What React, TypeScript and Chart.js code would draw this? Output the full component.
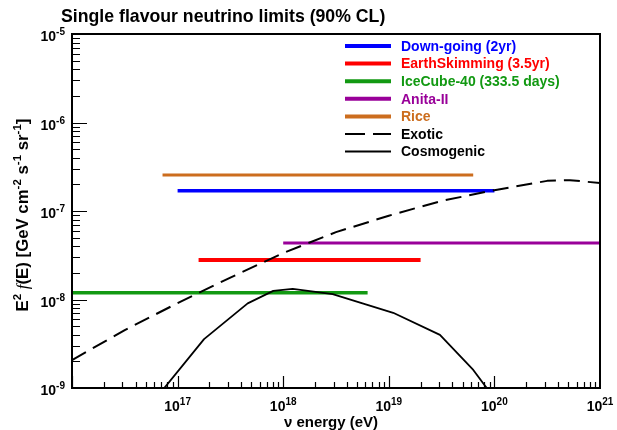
import React, { useEffect, useRef } from 'react';
import { Chart, registerables } from 'chart.js';

Chart.register(...registerables);

// ---------- data ----------
const EXOTIC_E = [1e16, 3.16e16, 1e17, 3.16e17, 1e18, 3.16e18, 1e19, 3.16e19, 1e20, 3.16e20, 5.2e20, 1e21];
const EXOTIC_F = [2.07e-9, 4.52e-9, 9.1e-9, 1.77e-8, 3.35e-8, 5.77e-8, 8.85e-8, 1.3e-7, 1.72e-7, 2.19e-7, 2.23e-7, 2.07e-7];

const COSMO_E = [6.31e16, 1.78e17, 4.61e17, 8.05e17, 1.23e18, 2.94e18, 1.1e19, 3.05e19, 6.31e19, 1e20];
const COSMO_F = [7.78e-10, 3.57e-9, 9.04e-9, 1.25e-8, 1.32e-8, 1.15e-8, 7.08e-9, 3.98e-9, 1.6e-9, 7.64e-10];

const LIMIT_LABELS = ['Down-going (2yr)', 'EarthSkimming (3.5yr)', 'IceCube-40 (333.5 days)', 'Anita-II', 'Rice'];
const LIMIT_EMIN = [1e17, 1.58e17, 1e16, 1e18, 7.2e16];
const LIMIT_EMAX = [1e20, 2.0e19, 6.3e18, 1e21, 6.3e19];
const LIMIT_FLUX = [1.69e-7, 2.8e-8, 1.19e-8, 4.36e-8, 2.55e-7];
const LIMIT_COLORS = ['#0000ff', '#ff0000', '#129912', '#990099', '#cc6d1e'];
const LIMIT_WIDTHS = [3.5, 4, 3.5, 3, 3];

const CURVE_LABELS = ['Exotic', 'Cosmogenic'];

const X_RANGE = [1e16, 1e21];
const Y_RANGE = [1e-9, 1e-5];
const X_LABEL_DECADES = [17, 18, 19, 20, 21];
const Y_LABEL_DECADES = [-9, -8, -7, -6, -5];

const TITLE = 'Single flavour neutrino limits (90% CL)';
const X_TITLE = '\u03BD energy (eV)';

const FONT = '"Liberation Sans", Arial, Helvetica, sans-serif';

function drawPow(ctx: CanvasRenderingContext2D, exp: string, x: number, y: number, align: 'center' | 'right') {
  ctx.save();
  ctx.textAlign = 'left';
  ctx.textBaseline = 'alphabetic';
  ctx.font = `bold 14px ${FONT}`;
  const wb = ctx.measureText('10').width;
  ctx.font = `bold 10px ${FONT}`;
  const we = ctx.measureText(exp).width;
  const total = wb + we;
  const x0 = align === 'center' ? x - total / 2 : x - total;
  ctx.font = `bold 14px ${FONT}`;
  ctx.fillText('10', x0, y);
  ctx.font = `bold 10px ${FONT}`;
  ctx.fillText(exp, x0 + wb, y - 6);
  ctx.restore();
}

const framePlugin = {
  id: 'rootFrame',
  afterDatasetsDraw(chart: any) {
    const ctx: CanvasRenderingContext2D = chart.ctx;
    const { left, right, top, bottom } = chart.chartArea;
    const xs = chart.scales.x;
    const ys = chart.scales.y;
    ctx.save();
    ctx.fillStyle = '#000';
    ctx.strokeStyle = '#000';

    // ticks
    ctx.lineWidth = 1.2;
    ctx.beginPath();
    for (let d = 16; d <= 20; d++) {
      for (let m = 1; m <= 9; m++) {
        const v = m * Math.pow(10, d);
        const px = Math.round(xs.getPixelForValue(v)) + 0.5;
        const len = m === 1 ? 12 : 6;
        ctx.moveTo(px, bottom);
        ctx.lineTo(px, bottom - len);
      }
    }
    for (let d = -9; d <= -6; d++) {
      for (let m = 1; m <= 9; m++) {
        const v = m * Math.pow(10, d);
        const py = Math.round(ys.getPixelForValue(v)) + 0.5;
        const len = m === 1 ? 15 : 8;
        ctx.moveTo(left, py);
        ctx.lineTo(left + len, py);
      }
    }
    ctx.stroke();

    // frame
    ctx.lineWidth = 2;
    ctx.strokeRect(left, top, right - left, bottom - top);

    // tick labels
    for (const d of X_LABEL_DECADES) {
      const px = xs.getPixelForValue(Math.pow(10, d));
      drawPow(ctx, String(d), px, bottom + 23, 'center');
    }
    for (const d of Y_LABEL_DECADES) {
      const py = ys.getPixelForValue(Math.pow(10, d));
      drawPow(ctx, String(d), left - 7, py + 7, 'right');
    }

    // title
    ctx.font = `bold 17.7px ${FONT}`;
    ctx.textAlign = 'left';
    ctx.textBaseline = 'alphabetic';
    ctx.fillText(TITLE, 61, 22);

    // x title
    ctx.font = `bold 15px ${FONT}`;
    ctx.textAlign = 'center';
    ctx.fillText(X_TITLE, 331, 427);

    // y title (rotated with superscripts)
    const parts: { t: string; f: string; sup?: boolean }[] = [
      { t: 'E', f: `bold 16.8px ${FONT}` },
      { t: '2', f: `bold 11.5px ${FONT}`, sup: true },
      { t: ' ', f: `bold 16.8px ${FONT}` },
      { t: 'f', f: `italic 16.8px "Liberation Serif", "Times New Roman", serif` },
      { t: '(E) [GeV cm', f: `bold 16.8px ${FONT}` },
      { t: '-2', f: `bold 11.5px ${FONT}`, sup: true },
      { t: ' s', f: `bold 16.8px ${FONT}` },
      { t: '-1', f: `bold 11.5px ${FONT}`, sup: true },
      { t: ' sr', f: `bold 16.8px ${FONT}` },
      { t: '-1', f: `bold 11.5px ${FONT}`, sup: true },
      { t: ']', f: `bold 16.8px ${FONT}` },
    ];
    let tw = 0;
    for (const p of parts) {
      ctx.font = p.f;
      tw += ctx.measureText(p.t).width;
    }
    ctx.save();
    ctx.translate(28, 215);
    ctx.rotate(-Math.PI / 2);
    ctx.textAlign = 'left';
    let cx = -tw / 2;
    for (const p of parts) {
      ctx.font = p.f;
      ctx.fillText(p.t, cx, p.sup ? -7 : 0);
      cx += ctx.measureText(p.t).width;
    }
    ctx.restore();

    // legend
    const lx0 = 345;
    const lx1 = 391;
    const tx = 401;
    const rowY = (i: number) => 46 + i * 17.6;
    ctx.textAlign = 'left';
    ctx.textBaseline = 'middle';
    ctx.font = `bold 14px ${FONT}`;
    LIMIT_LABELS.forEach((lab, i) => {
      const y = rowY(i);
      ctx.strokeStyle = LIMIT_COLORS[i];
      ctx.lineWidth = 4;
      ctx.setLineDash([]);
      ctx.beginPath();
      ctx.moveTo(lx0, y);
      ctx.lineTo(lx1, y);
      ctx.stroke();
      ctx.fillStyle = LIMIT_COLORS[i];
      ctx.fillText(lab, tx, y + 1);
    });
    CURVE_LABELS.forEach((lab, j) => {
      const y = rowY(LIMIT_LABELS.length + j);
      ctx.strokeStyle = '#000';
      ctx.lineWidth = 2;
      ctx.setLineDash(j === 0 ? [20, 8] : []);
      ctx.beginPath();
      ctx.moveTo(lx0, y);
      ctx.lineTo(lx1, y);
      ctx.stroke();
      ctx.setLineDash([]);
      ctx.fillStyle = '#000';
      ctx.fillText(lab, tx, y + 1);
    });

    ctx.restore();
  },
};

export default function App() {
  const ref = useRef<HTMLCanvasElement>(null);
  useEffect(() => {
    const curves = [
      {
        label: CURVE_LABELS[0],
        data: EXOTIC_E.map((e, i) => ({ x: e, y: EXOTIC_F[i] })),
        borderColor: '#000',
        borderWidth: 2,
        borderDash: [16, 8],
        pointRadius: 0,
        tension: 0,
        fill: false,
      },
      {
        label: CURVE_LABELS[1],
        data: COSMO_E.map((e, i) => ({ x: e, y: COSMO_F[i] })),
        borderColor: '#000',
        borderWidth: 1.8,
        pointRadius: 0,
        tension: 0,
        fill: false,
      },
    ];
    const limits = LIMIT_LABELS.map((lab, i) => ({
      label: lab,
      data: [
        { x: LIMIT_EMIN[i], y: LIMIT_FLUX[i] },
        { x: LIMIT_EMAX[i], y: LIMIT_FLUX[i] },
      ],
      borderColor: LIMIT_COLORS[i],
      borderWidth: LIMIT_WIDTHS[i],
      borderCapStyle: 'butt',
      pointRadius: 0,
      tension: 0,
      fill: false,
    }));
    const chart = new Chart(ref.current!, {
      type: 'line',
      data: { datasets: [...curves, ...limits] as any },
      options: {
        animation: false,
        responsive: false,
        devicePixelRatio: 1,
        layout: { padding: { left: 72, right: 17, top: 34, bottom: 42 } },
        plugins: { legend: { display: false }, tooltip: { enabled: false }, title: { display: false } },
        scales: {
          x: { type: 'logarithmic', min: X_RANGE[0], max: X_RANGE[1], display: false },
          y: { type: 'logarithmic', min: Y_RANGE[0], max: Y_RANGE[1], display: false },
        },
        elements: { line: { borderJoinStyle: 'round' } },
      } as any,
      plugins: [framePlugin],
    });
    return () => chart.destroy();
  }, []);
  return (
    <div style={{ position: 'absolute', left: 0, top: 0, width: 617, height: 430, background: '#fff' }}>
      <canvas ref={ref} width={617} height={430} style={{ display: 'block', width: 617, height: 430 }} />
    </div>
  );
}
